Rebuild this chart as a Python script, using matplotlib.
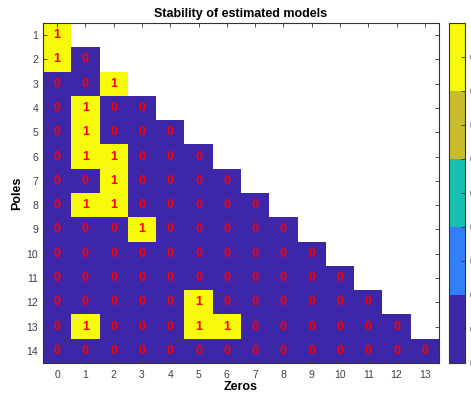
import numpy as np
import matplotlib
matplotlib.use("Agg")
import matplotlib.pyplot as plt
from matplotlib.colors import ListedColormap, BoundaryNorm
from matplotlib.cm import ScalarMappable

plt.rcParams['font.family'] = ['Liberation Sans', 'DejaVu Sans']

poles = list(range(1, 15))
zeros = list(range(0, 14))

# stability flag per (poles, zeros) model, zeros < poles
stable = [
    [1],
    [1, 0],
    [0, 0, 1],
    [0, 1, 0, 0],
    [0, 1, 0, 0, 0],
    [0, 1, 1, 0, 0, 0],
    [0, 0, 1, 0, 0, 0, 0],
    [0, 1, 1, 0, 0, 0, 0, 0],
    [0, 0, 0, 1, 0, 0, 0, 0, 0],
    [0, 0, 0, 0, 0, 0, 0, 0, 0, 0],
    [0, 0, 0, 0, 0, 0, 0, 0, 0, 0, 0],
    [0, 0, 0, 0, 0, 1, 0, 0, 0, 0, 0, 0],
    [0, 1, 0, 0, 0, 1, 1, 0, 0, 0, 0, 0, 0],
    [0, 0, 0, 0, 0, 0, 0, 0, 0, 0, 0, 0, 0, 0],
]
cbar_ticks = [0, 0.1, 0.2, 0.3, 0.4, 0.5, 0.6, 0.7, 0.8, 0.9, 1]
cbar_labels = ['0', '0.1', '0.2', '0.3', '0.4', '0.5',
               '0.6', '0.7', '0.8', '0.9', '1']

parula5 = ['#3e26a8', '#327ffb', '#17bfb4', '#c9bc2e', '#f8fa0d']
cmap = ListedColormap(parula5)
norm = BoundaryNorm(np.linspace(0, 1, 6), cmap.N)

M = np.full((len(poles), len(zeros)), np.nan)
for i, row in enumerate(stable):
    M[i, :len(row)] = row
Mm = np.ma.masked_invalid(M)

fig = plt.figure(figsize=(4.71, 3.94), dpi=100)
ax = fig.add_axes([43/471, 31/394, 396/471, 340/394])
ax.pcolormesh(np.arange(-0.5, 14, 1), np.arange(0.5, 15, 1), Mm,
              cmap=cmap, norm=norm, shading='flat')

for i, row in enumerate(stable):
    for j, v in enumerate(row):
        ax.text(zeros[j], poles[i], str(v), ha='center', va='center',
                color='#ff0000', fontsize=9, fontweight='bold')

ax.set_xlim(-0.5, 13.5)
ax.set_ylim(14.5, 0.5)
ax.set_xticks(zeros)
ax.set_yticks(poles)
ax.tick_params(direction='in', top=True, right=True, labelsize=7.5,
               labelcolor='#404040', color='#333333', length=3, width=0.6)
ax.tick_params(axis='x', pad=5)
for s in ax.spines.values():
    s.set_color('#333333')
    s.set_linewidth(0.8)
ax.set_title('Stability of estimated models', fontsize=9, fontweight='bold', pad=4)
ax.set_xlabel('Zeros', fontsize=9, fontweight='bold', labelpad=1)
ax.set_ylabel('Poles', fontsize=9, fontweight='bold', labelpad=2)

cax = fig.add_axes([449/471, 31/394, 16/471, 340/394])
cb = fig.colorbar(ScalarMappable(norm=norm, cmap=cmap), cax=cax, ticks=cbar_ticks)
cb.ax.set_yticklabels(cbar_labels)
cb.ax.tick_params(direction='in', labelsize=7.5, labelcolor='#404040',
                  color='#333333', length=3, width=0.6, pad=3)
cb.outline.set_edgecolor('#333333')
cb.outline.set_linewidth(0.8)

fig.savefig('out.png', dpi=100)
